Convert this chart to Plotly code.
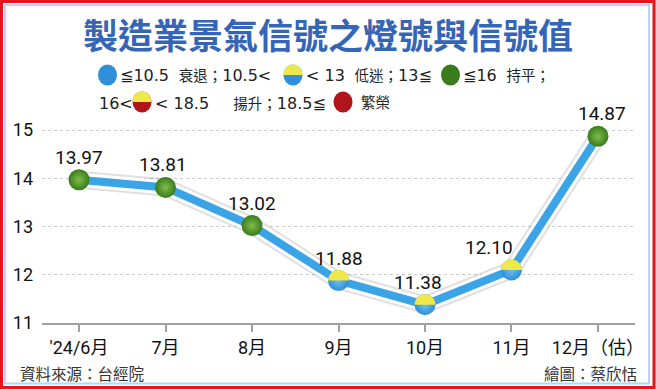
import plotly.graph_objects as go

# ---------------- data ----------------
months = ["'24/6月", "7月", "8月", "9月", "10月", "11月", "12月（估）"]
signal_values = [13.97, 13.81, 13.02, 11.88, 11.38, 12.10, 14.87]
label_xshift = [0, -3, 0, 0, -7, -22, 4]
y_ticks = [11, 12, 13, 14, 15]
title_text = "製造業景氣信號之燈號與信號值"
source_text = "資料來源：台經院"
credit_text = "繪圖：蔡欣恬"

# ---------------- layout geometry ----------------
W, H = 656, 389
L, R, T, B = 42, 635, 110, 323
PW, PH = R - L, B - T


def px(x):
    return (x - L) / PW


def py(y):
    return (B - y) / PH


BLUE = "#2f8fd8"
BLUE_C = "#6cc0f2"
YELLOW = "#efe84a"
GREEN = "#3a7b1d"
GREEN_C = "#7ebd4a"
RED = "#b0151b"
RED_C = "#e2474a"
FONT = "Roboto, 'Noto Sans CJK TC', sans-serif"
CJK = "'Noto Sans CJK TC', sans-serif"
LEG = "'DejaVu Sans', 'Noto Sans CJK TC', sans-serif"

x_idx = list(range(len(months)))


def light(v):
    if v <= 10.5:
        return "blue"
    if v < 13:
        return "yellowblue"
    if v <= 16:
        return "green"
    if v < 18.5:
        return "yellowred"
    return "red"


base_color = {"blue": (BLUE, BLUE_C), "yellowblue": (BLUE, BLUE_C),
              "green": (GREEN, GREEN_C), "yellowred": (RED, RED_C),
              "red": (RED, RED_C)}

fig = go.Figure()

# line shadow / halo / line
fig.add_trace(go.Scatter(x=x_idx, y=signal_values, mode="lines",
                         line=dict(color="rgba(0,0,0,0.12)", width=18),
                         hoverinfo="skip", showlegend=False))
fig.add_trace(go.Scatter(x=x_idx, y=signal_values, mode="lines",
                         line=dict(color="white", width=14),
                         hoverinfo="skip", showlegend=False))
fig.add_trace(go.Scatter(x=x_idx, y=signal_values, mode="lines",
                         line=dict(color="#3aa4e6", width=8),
                         hoverinfo="skip", showlegend=False))

kinds = [light(v) for v in signal_values]
fig.add_trace(go.Scatter(
    x=x_idx, y=signal_values, mode="markers",
    marker=dict(size=21, color=[base_color[k][0] for k in kinds],
                gradient=dict(type="radial", color=[base_color[k][1] for k in kinds]),
                line=dict(width=0)),
    cliponaxis=False, showlegend=False))

shapes = []


def half_path(r, ry=None):
    ry = ry if ry is not None else r
    k = 0.5523
    return (f"M{-r},0 C{-r},{k*ry} {-k*r},{ry} 0,{ry} "
            f"C{k*r},{ry} {r},{k*ry} {r},0 Z")


# yellow tops on split lights in plot
for i, (v, k) in enumerate(zip(signal_values, kinds)):
    if k in ("yellowblue", "yellowred"):
        shapes.append(dict(type="path", xref="x", yref="y", xsizemode="pixel",
                           ysizemode="pixel", xanchor=i, yanchor=v,
                           path=half_path(10.5), fillcolor=YELLOW,
                           line=dict(width=0), layer="above"))

# legend lights
legend_lights = [("blue", 107.5, 75), ("yellowblue", 293, 75), ("green", 450.5, 75),
                 ("yellowred", 142, 102), ("red", 343, 102)]
for k, cx, cy in legend_lights:
    shapes.append(dict(type="circle", xref="paper", yref="paper", xsizemode="pixel",
                       ysizemode="pixel", xanchor=px(cx), yanchor=py(cy),
                       x0=-9.5, x1=9.5, y0=-10.5, y1=10.5,
                       fillcolor=base_color[k][0], line=dict(width=0), layer="above"))
    if k in ("yellowblue", "yellowred"):
        shapes.append(dict(type="path", xref="paper", yref="paper", xsizemode="pixel",
                           ysizemode="pixel", xanchor=px(cx), yanchor=py(cy),
                           path=half_path(9.5, 10.5), fillcolor=YELLOW,
                           line=dict(width=0), layer="above"))

# borders
shapes.append(dict(type="rect", xref="paper", yref="paper",
                   x0=px(1.5), x1=px(654), y0=py(1.5), y1=py(387.5),
                   line=dict(color="#e8141b", width=3), fillcolor="rgba(0,0,0,0)"))
shapes.append(dict(type="rect", xref="paper", yref="paper",
                   x0=px(5), x1=px(649), y0=py(5), y1=py(383.5),
                   line=dict(color="#b3d5f6", width=2), fillcolor="rgba(0,0,0,0)"))

annotations = []
annotations.append(dict(text=f"<b>{title_text}</b>", x=px(328), y=py(34),
                        xref="paper", yref="paper", xanchor="center", yanchor="middle",
                        showarrow=False, font=dict(family=CJK, size=35, color="#3565b6")))

# data labels
for i, (v, dx) in enumerate(zip(signal_values, label_xshift)):
    annotations.append(dict(text=f"{v:.2f}", x=i, y=v, xref="x", yref="y",
                            xanchor="center", yanchor="bottom", yshift=9, xshift=dx,
                            showarrow=False,
                            font=dict(family=FONT, size=19, color="#111")))


def cj(s):
    return f"<span style='font-size:14.5px'>{s}</span>"


legend_texts = [
    ("≦10.5 " + cj("\u00a0衰退；") + "10.5<", 118, 76),
    ("< 13 " + cj("\u00a0低迷；") + "13≦", 304, 76),
    ("≦16 " + cj("\u00a0持平；"), 461, 76),
    ("16<", 97, 103),
    ("< 18.5 " + cj("\u3000\u00a0揚升；") + "18.5≦", 153, 103),
    (cj("繁榮"), 359, 103),
]
for t, x, y in legend_texts:
    annotations.append(dict(text=t, x=px(x), y=py(y), xref="paper", yref="paper",
                            xanchor="left", yanchor="middle", showarrow=False,
                            font=dict(family=LEG, size=16, color="#222")))

annotations.append(dict(text=source_text, x=px(18), y=py(373), xref="paper", yref="paper",
                        xanchor="left", yanchor="middle", showarrow=False,
                        font=dict(family=CJK, size=15.5, color="#333")))
annotations.append(dict(text=credit_text, x=px(639), y=py(373), xref="paper", yref="paper",
                        xanchor="right", yanchor="middle", showarrow=False,
                        font=dict(family=CJK, size=15.5, color="#333")))

fig.update_layout(
    width=W, height=H, autosize=False,
    margin=dict(l=L, r=W - R, t=T, b=H - B, pad=0),
    paper_bgcolor="white", plot_bgcolor="white",
    showlegend=False, shapes=shapes, annotations=annotations,
    xaxis=dict(range=[-0.428, 6.428], tickvals=x_idx, ticktext=months,
               showgrid=False, zeroline=False, showline=True, linecolor="#a0a0a0",
               linewidth=2, ticks="outside", ticklen=7, tickwidth=2, tickcolor="#a0a0a0",
               tickfont=dict(family=FONT, size=18, color="#111")),
    yaxis=dict(range=[11, 15.415], tickvals=y_ticks, showgrid=True,
               gridcolor="#c9c9c9", griddash="3px,3px", gridwidth=1,
               zeroline=False, showline=False, ticks="", ticklabelstandoff=8,
               tickfont=dict(family=FONT, size=18, color="#111")),
)

fig.write_html(
    "out.html",
    config={"displayModeBar": False},
    post_script="document.body.style.margin='0';document.body.style.padding='0';"
                "document.body.style.overflow='hidden';",
)
